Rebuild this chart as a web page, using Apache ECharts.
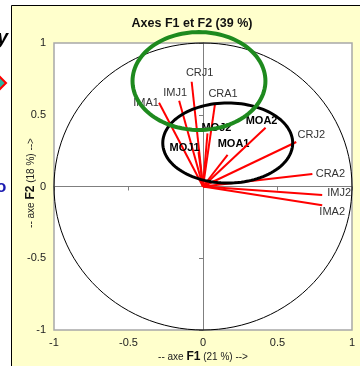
<!DOCTYPE html>
<html><head><meta charset="utf-8">
<script src="https://cdn.jsdelivr.net/npm/echarts@6/dist/echarts.min.js"></script>
<style>html,body{margin:0;padding:0;background:#fff}#c{width:360px;height:366px}</style>
</head><body><div id="c"></div>
<script>
// Data
const varNames = ['IMA1','IMJ1','CRJ1','CRA1','MOJ2','MOJ1','MOA1','MOA2','CRJ2','CRA2','IMJ2','IMA2'];
const f1Values = [-0.295,-0.16,-0.076,0.081,0.03,-0.03,0.165,0.42,0.626,0.734,0.80,0.80];
const f2Values = [0.584,0.598,0.73,0.58,0.37,0.24,0.22,0.41,0.31,0.087,-0.06,-0.13];
const boldNames = ['MOJ2','MOJ1','MOA1','MOA2'];
const xTicks = [-1,-0.5,0,0.5,1];
const yTicks = [-1,-0.5,0,0.5,1];
// annotation ellipses: [cx, cy, rx, ry] in axis units
const greenEllipse = [-0.027,0.735,0.446,0.341];
const blackEllipse = [0.166,0.303,0.436,0.279];

// label offsets (px) — styling only
const labelOffset = {IMA1:[-13,0],IMJ1:[-4,-8],CRJ1:[8,-9],CRA1:[8,-9],MOJ2:[9,-5],MOJ1:[-14,-4],
  MOA1:[6,-11],MOA2:[-4,-7],CRJ2:[15,-7],CRA2:[18,0],IMJ2:[17,-2],IMA2:[10,7]};

const chart = echarts.init(document.getElementById('c'), null, {renderer:'canvas'});
const FONT = 'Liberation Sans, Arial, sans-serif';

function ellipseItem(color, width){
  return function(params, api){
    const c = api.coord([api.value(0), api.value(1)]);
    const s = api.size([api.value(2), api.value(3)]);
    const pts = [];
    for (let i=0;i<120;i++){ const t=i/120*Math.PI*2; pts.push([c[0]+s[0]*Math.cos(t), c[1]-s[1]*Math.sin(t)]); }
    return {type:'polygon', shape:{points:pts}, style:{fill:'none', stroke:color, lineWidth:width}};
  };
}

const vecData = varNames.map((n,i)=>[f1Values[i], f2Values[i]]);

chart.setOption({
  animation:false,
  backgroundColor:'#ffffff',
  graphic:[
    {type:'rect', z:-10, shape:{x:11.5,y:5.5,width:360,height:370}, style:{fill:'#FFFFCC', stroke:'#000', lineWidth:1}},
    {type:'text', left:-3, top:28, style:{text:'y', font:'italic bold 20px '+FONT, fill:'#000'}},
    {type:'polygon', shape:{points:[[-5,72],[6,83],[-5,94],[-16,83]]}, style:{fill:'#2BB5A0', stroke:'#FF0000', lineWidth:2}},
    {type:'text', x:-4, y:179, style:{text:'o', font:'bold 17px '+FONT, fill:'#1A1AB0'}},
    {type:'text', x:192, y:24, style:{text:'Axes F1 et F2 (39 %)', font:'bold 12.5px '+FONT, fill:'#111', align:'center', verticalAlign:'middle'}},
    {type:'text', x:203, y:357, style:{text:'{a|-- axe }{b|F1}{a| (21 %) -->}', align:'center', verticalAlign:'middle',
      rich:{a:{fontSize:10, fontFamily:FONT, fill:'#222'}, b:{fontSize:12, fontWeight:'bold', fontFamily:FONT, fill:'#111'}}}},
    {type:'text', x:31, y:183, rotation:Math.PI/2, style:{text:'{a|-- axe }{b|F2}{a| (18 %) -->}', align:'center', verticalAlign:'middle',
      rich:{a:{fontSize:10, fontFamily:FONT, fill:'#222'}, b:{fontSize:12, fontWeight:'bold', fontFamily:FONT, fill:'#111'}}}}
  ],
  grid:{left:54, top:43, width:298, height:287, show:true, backgroundColor:'#ffffff', borderColor:'#A8A8A8', borderWidth:1.5},
  xAxis:[
    {type:'value', min:-1, max:1, interval:0.5, axisLine:{show:false, onZero:false}, axisTick:{show:false}, splitLine:{show:false},
     axisLabel:{margin:7, fontSize:11, fontFamily:FONT, color:'#222', formatter:v=>String(v)}},
    {type:'value', min:-1, max:1, interval:0.5, position:'bottom', axisLine:{show:true, onZero:true, onZeroAxisIndex:0, lineStyle:{color:'#7F7F7F', width:1}},
     axisTick:{show:true, length:4, lineStyle:{color:'#7F7F7F'}}, axisLabel:{show:false}, splitLine:{show:false}}
  ],
  yAxis:[
    {type:'value', min:-1, max:1, interval:0.5, axisLine:{show:false, onZero:false}, axisTick:{show:false}, splitLine:{show:false},
     axisLabel:{margin:8, fontSize:11, fontFamily:FONT, color:'#222', formatter:v=>String(v)}},
    {type:'value', min:-1, max:1, interval:0.5, position:'left', axisLine:{show:true, onZero:true, onZeroAxisIndex:0, lineStyle:{color:'#7F7F7F', width:1}},
     axisTick:{show:true, length:4, lineStyle:{color:'#7F7F7F'}}, axisLabel:{show:false}, splitLine:{show:false}}
  ],
  series:[
    {type:'custom', xAxisIndex:0, yAxisIndex:0, z:2, silent:true, data:[[0,0,1,1]], renderItem:ellipseItem('#000',1)},
    {type:'custom', xAxisIndex:0, yAxisIndex:0, z:3, silent:true, data:vecData,
     renderItem:function(params, api){
       const o = api.coord([0,0]);
       const p = api.coord([api.value(0), api.value(1)]);
       const name = varNames[params.dataIndex];
       const off = labelOffset[name];
       const bold = boldNames.indexOf(name) >= 0;
       return {type:'group', children:[
         {type:'line', shape:{x1:o[0],y1:o[1],x2:p[0],y2:p[1]}, style:{stroke:'#FF0000', lineWidth:2}},
         {type:'text', x:p[0]+off[0], y:p[1]+off[1], style:{text:name, font:(bold?'bold ':'')+'11px '+FONT,
           fill:bold?'#000':'#333', align:'center', verticalAlign:'middle'}}
       ]};
     }},
    {type:'custom', xAxisIndex:0, yAxisIndex:0, z:4, silent:true, data:[blackEllipse], renderItem:ellipseItem('#000',3)},
    {type:'custom', xAxisIndex:0, yAxisIndex:0, z:5, silent:true, data:[greenEllipse], renderItem:ellipseItem('#1E8A1E',4)}
  ]
});
</script></body></html>
